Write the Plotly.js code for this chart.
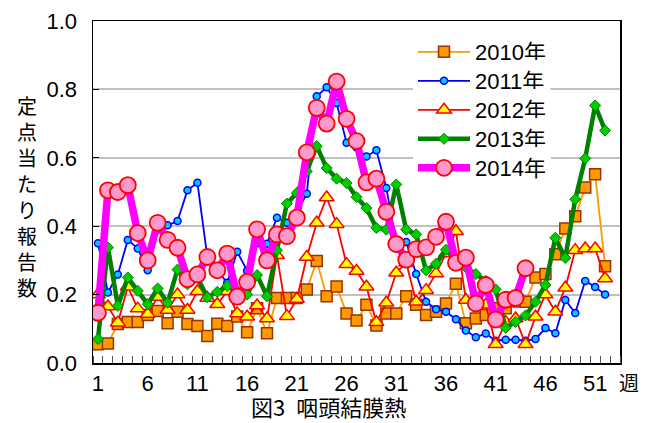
<!DOCTYPE html>
<html>
<head>
<meta charset="utf-8">
<script src="https://cdn.plot.ly/plotly-3.0.1.min.js"></script>
<style>
  html, body { margin: 0; padding: 0; background: #fff; }
  #chart { width: 649px; height: 423px; }
</style>
</head>
<body>
<div id="chart"></div>
<script>
// ---- data ----
const weeks = [1,2,3,4,5,6,7,8,9,10,11,12,13,14,15,16,17,18,19,20,21,22,23,24,25,26,
               27,28,29,30,31,32,33,34,35,36,37,38,39,40,41,42,43,44,45,46,47,48,49,50,51,52];

const seriesNames = ["2010年", "2011年", "2012年", "2013年", "2014年"];

const y2010 = [0.055,0.057,0.114,0.12,0.12,0.14,0.152,0.116,0.15,0.114,
               0.108,0.079,0.115,0.108,0.136,0.09,0.16,0.087,0.19,0.19,
               0.19,0.215,0.298,0.195,0.224,0.145,0.124,0.17,0.11,0.145,
               0.145,0.195,0.17,0.14,0.15,0.174,0.232,0.116,0.13,0.14,
               0.16,0.16,0.18,0.179,0.25,0.26,0.318,0.393,0.429,0.513,
               0.552,0.283];

const y2011 = [0.35,0.206,0.259,0.36,0.335,0.271,0.39,0.403,0.415,0.505,
               0.527,0.31,0.27,0.235,0.325,0.27,0.35,0.349,0.425,0.41,
               0.44,0.495,0.78,0.806,0.76,0.644,0.63,0.604,0.622,0.512,
               0.35,0.354,0.26,0.179,0.157,0.15,0.128,0.095,0.075,0.086,
               0.065,0.068,0.068,0.065,0.07,0.102,0.087,0.184,0.146,0.24,
               0.222,0.2];

const y2012 = [0.2,0.165,0.118,0.223,0.159,0.143,0.193,0.155,0.2,0.155,
               0.21,0.19,0.172,0.21,0.145,0.135,0.168,0.13,0.315,0.137,
               0.187,0.31,0.41,0.484,0.406,0.289,0.269,0.223,0.119,0.176,
               0.264,0.293,0.179,0.213,0.262,0.32,0.385,0.184,0.19,0.17,
               0.055,0.12,0.13,0.055,0.135,0.2,0.15,0.22,0.33,0.335,
               0.335,0.247];

const y2013 = [0.07,0.338,0.167,0.25,0.211,0.172,0.218,0.176,0.273,0.23,
               0.25,0.192,0.208,0.225,0.21,0.2,0.257,0.195,0.33,0.466,
               0.497,0.56,0.634,0.57,0.539,0.526,0.485,0.453,0.395,0.39,
               0.522,0.39,0.376,0.271,0.29,0.331,0.3,0.28,0.26,0.24,
               0.215,0.103,0.12,0.139,0.179,0.228,0.366,0.307,0.479,0.598,
               0.753,0.68];

const y2014 = [0.147,0.505,0.50,0.52,0.38,0.30,0.41,0.36,0.337,0.245,
               0.259,0.31,0.271,0.32,0.194,0.237,0.391,0.30,0.376,0.371,
               0.425,0.616,0.746,0.70,0.823,0.714,0.649,0.528,0.539,0.442,
               0.348,0.302,0.333,0.338,0.369,0.413,0.293,0.308,0.174,0.228,
               0.127,0.185,0.19,0.277];

const xTickVals = [1,6,11,16,21,26,31,36,41,46,51];
const xTickText = ["1","6","11","16","21","26","31","36","41","46","51"];
const yTickVals = [0,0.2,0.4,0.6,0.8,1.0];
const yTickText = ["0.0","0.2","0.4","0.6","0.8","1.0"];

const xUnitLabel = "週";
const yTitleText = "定点当たり報告数";
const chartTitle = "図3\u2002咽頭結膜熱";

// ---- traces ----
const FONT = "'Liberation Sans', Arial, 'Noto Sans CJK JP', sans-serif";
const CJK = "'Noto Sans CJK JP', sans-serif";

const legendIds = ["legend", "legend2", "legend3", "legend4", "legend5"];

const traces = [
  { x: weeks, y: y2010, name: seriesNames[0], legend: legendIds[0], mode: "lines+markers", type: "scatter",
    line: { color: "#ff9900", width: 1.8 },
    marker: { symbol: "square", size: 11, color: "#ff9900", line: { color: "#993300", width: 1.5 } } },
  { x: weeks, y: y2011, name: seriesNames[1], legend: legendIds[1], mode: "lines+markers", type: "scatter",
    line: { color: "#0000ff", width: 1.8 },
    marker: { symbol: "circle", size: 7, color: "#00ccff", line: { color: "#0000ff", width: 1.5 } } },
  { x: weeks, y: y2012, name: seriesNames[2], legend: legendIds[2], mode: "lines+markers", type: "scatter",
    line: { color: "#ff0000", width: 1.8 },
    marker: { symbol: "triangle-up", size: 13, color: "#ffff00", line: { color: "#ff0000", width: 1.5 } } },
  { x: weeks, y: y2013, name: seriesNames[3], legend: legendIds[3], mode: "lines+markers", type: "scatter",
    line: { color: "#008000", width: 4.5 },
    marker: { symbol: "diamond", size: 8.5, color: "#00cc00", line: { color: "#008000", width: 1 } } },
  { x: weeks.slice(0, y2014.length), y: y2014, name: seriesNames[4], legend: legendIds[4], mode: "lines+markers", type: "scatter",
    line: { color: "#ff00ff", width: 7.5 },
    marker: { symbol: "circle", size: 16, color: "#ff99cc", line: { color: "#ff0000", width: 1.8 } } }
];

const L = 93, R = 29, T = 21, B = 60, W = 649, H = 423;
const pw = W - L - R, ph = H - T - B;
const px2x = p => (p - L) / pw;
const px2y = p => (H - B - p) / ph;

const layout = {
  width: W, height: H,
  margin: { l: L, r: R, t: T, b: B, pad: 0 },
  paper_bgcolor: "#ffffff", plot_bgcolor: "#ffffff",
  font: { family: FONT, size: 22, color: "#000000" },
  showlegend: true,
  xaxis: {
    range: [0.5, 53.5], tickmode: "array", tickvals: xTickVals, ticktext: xTickText,
    ticks: "", showgrid: false, zeroline: false,
    showline: true, linecolor: "#000000", linewidth: 1.5, mirror: true,
    tickfont: { family: FONT, size: 22, color: "#000000" },
    ticklabelstandoff: 0,
    minor: { tick0: 0.5, dtick: 1, ticks: "inside", ticklen: 7, tickcolor: "#555555", tickwidth: 1, showgrid: false }
  },
  yaxis: {
    range: [0, 1], tickmode: "array", tickvals: yTickVals, ticktext: yTickText,
    ticks: "inside", ticklen: 6, tickcolor: "#000000",
    showgrid: true, gridcolor: "#c0c0c0", gridwidth: 2, zeroline: false,
    showline: true, linecolor: "#000000", linewidth: 1.5, mirror: true,
    tickfont: { family: FONT, size: 22, color: "#000000" },
    ticklabelstandoff: 10
  },
  annotations: [
    { text: xUnitLabel, xref: "paper", yref: "paper", x: px2x(629), y: px2y(383),
      xanchor: "center", yanchor: "middle", showarrow: false,
      font: { family: CJK, size: 20, color: "#000000" } },
    { text: yTitleText.split("").join("<br>"), xref: "paper", yref: "paper",
      x: px2x(27), y: px2y(196), xanchor: "center", yanchor: "middle", showarrow: false,
      font: { family: CJK, size: 20, color: "#000000" } },
    { text: chartTitle, xref: "paper", yref: "paper", x: px2x(328), y: px2y(423),
      xanchor: "center", yanchor: "bottom", showarrow: false, borderpad: 0,
      font: { family: CJK, size: 22, color: "#000000" } }
  ]
};

// one legend per series, so the entries sit at the reference spacing
const legendCenters = [48, 77, 106, 135, 164];
legendIds.forEach((id, i) => {
  layout[id] = {
    x: px2x(413), y: px2y(legendCenters[i] - 17), xanchor: "left", yanchor: "top",
    bgcolor: "rgba(255,255,255,1)", borderwidth: 0,
    font: { family: FONT, size: 22, color: "#000000" },
    itemwidth: 52
  };
});

Plotly.newPlot("chart", traces, layout, { displayModeBar: false, staticPlot: true });
</script>
</body>
</html>
